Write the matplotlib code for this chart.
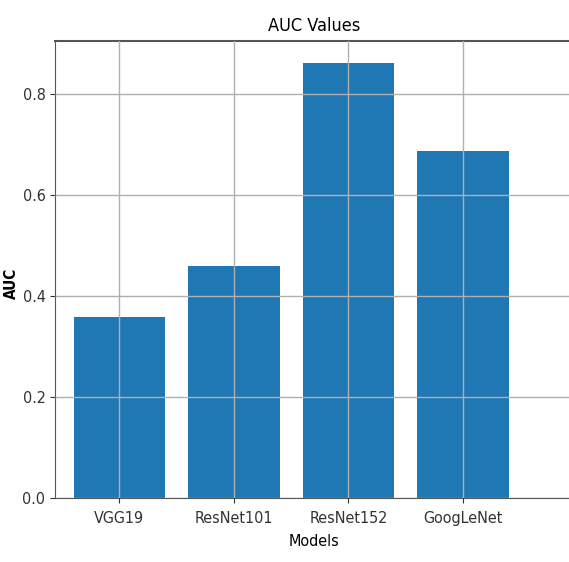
import matplotlib
matplotlib.use('Agg')
import matplotlib.pyplot as plt

models = ['VGG19', 'ResNet101', 'ResNet152', 'GoogLeNet']
auc_values = [0.358, 0.459, 0.861, 0.687]

plt.rcParams['font.stretch'] = 'condensed'

fig = plt.figure(figsize=(5.69, 5.62), dpi=100)
ax = fig.add_axes([0.097, 0.114, 0.91, 0.813])
ax.bar(models, auc_values, width=0.8, color='#1f77b4', zorder=2)
ax.set_axisbelow(False)
ax.grid(True, color='#b0b0b0', linewidth=1.0)
ax.set_xlim(-0.56, 3.96)
ax.set_ylim(0, 0.905)
ax.set_yticks([0.0, 0.2, 0.4, 0.6, 0.8])
ax.set_title('AUC Values', fontsize=13, pad=7)
ax.set_xlabel('Models', fontsize=11.5, labelpad=6)
ax.set_ylabel('AUC', fontsize=11, fontweight='bold')
ax.yaxis.set_label_coords(-0.07, 0.47)
for s in ax.spines.values():
    s.set_color('#555555')
ax.spines['top'].set_linewidth(1.5)
ax.tick_params(colors='#333333', labelsize=11.5)
ax.tick_params(axis='x', pad=6)

fig.savefig('out.png', dpi=100)
